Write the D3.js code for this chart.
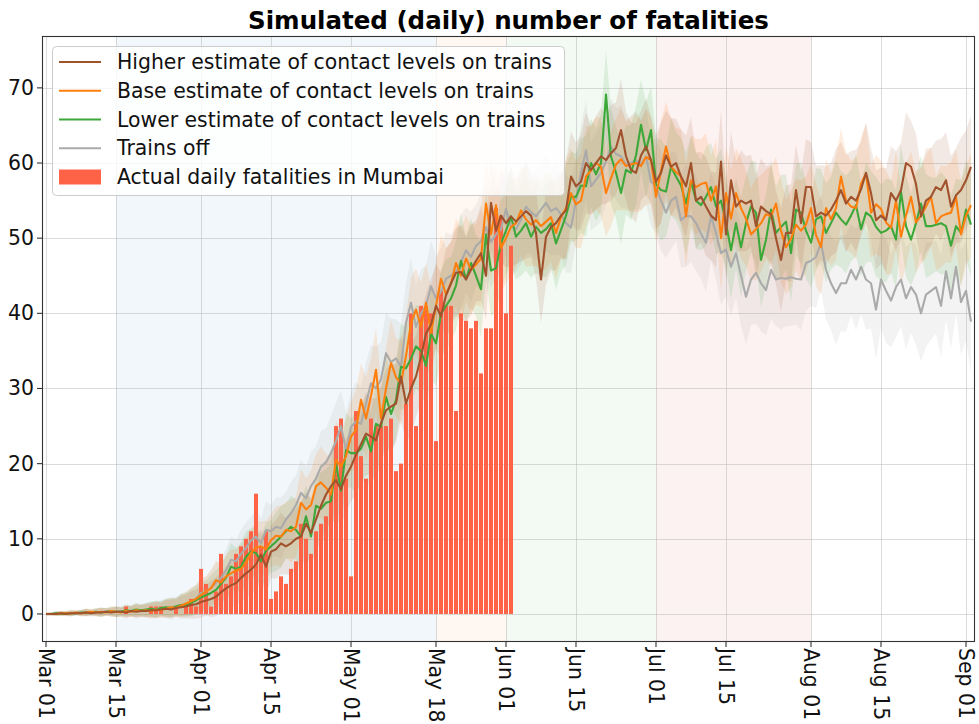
<!DOCTYPE html>
<html>
<head>
<meta charset="utf-8">
<script src="https://cdn.jsdelivr.net/npm/d3@7"></script>
<style>
  html, body { margin: 0; padding: 0; background: #fff; }
  svg { display: block; font-family: "DejaVu Sans", sans-serif; }
</style>
</head>
<body>
<svg id="chart" width="979" height="724"></svg>
<script>
// Daily series start on 2020-03-01 (one value per day through 2020-09-02)
const seriesStart = "2020-03-01";

const higherEstimate = [
  0.0,0.0,0.0,0.1,0.0,0.1,0.1,0.1,0.2,0.1,
  0.2,0.2,0.3,0.2,0.3,0.3,0.2,0.4,0.3,0.4,
  0.4,0.5,0.5,0.6,0.7,0.6,0.8,0.9,1.0,1.2,
  1.3,1.6,1.8,2.0,2.3,2.9,3.4,3.8,4.1,4.8,
  5.4,5.9,6.6,7.9,6.3,8.3,8.6,9.4,9.0,9.4,
  10.0,10.3,12.0,10.8,12.6,14.4,15.9,17.0,17.8,16.6,
  18.4,19.6,21.2,22.6,24.0,23.6,23.1,25.4,27.1,27.6,
  28.0,31.6,28.0,30.0,31.6,34.2,37.3,38.5,41.0,39.6,
  42.4,44.0,45.4,45.5,44.5,45.8,47.0,48.0,45.0,54.7,
  51.0,53.0,52.0,52.9,52.2,52.9,53.6,53.0,50.7,44.5,
  50.2,51.5,52.0,53.0,53.7,58.2,56.9,57.5,60.0,59.1,
  60.0,60.9,60.4,61.3,62.0,64.4,60.9,59.1,58.7,61.0,
  62.2,60.4,57.5,58.7,61.0,59.5,60.0,58.2,56.9,60.0,
  55.0,55.5,54.2,53.0,52.4,60.2,50.5,57.7,54.2,55.0,
  54.6,55.0,51.6,54.2,53.6,53.2,50.0,47.1,50.7,50.7,
  56.4,52.0,56.8,56.8,52.9,53.4,53.0,53.8,55.0,56.4,
  54.6,55.5,55.0,56.5,58.7,56.0,52.4,53.0,52.4,56.0,
  55.0,56.4,60.0,59.5,57.2,52.9,55.0,55.5,56.8,56.4,
  57.7,54.2,55.7,56.4,57.7,59.5
];

const baseEstimate = [
  0.0,0.0,0.0,0.1,0.1,0.1,0.2,0.1,0.2,0.3,
  0.2,0.3,0.2,0.4,0.3,0.2,0.4,0.3,0.5,0.4,
  0.5,0.4,0.6,0.5,0.7,0.9,0.8,1.1,1.4,1.7,
  2.0,2.5,3.0,3.4,4.5,4.2,5.0,5.4,5.8,6.0,
  6.8,8.1,8.8,9.0,8.6,9.8,10.4,10.3,11.2,11.0,
  11.6,14.8,13.9,14.5,17.0,17.5,16.8,15.9,20.5,19.6,
  21.0,23.6,24.5,28.5,26.0,29.0,32.5,26.0,30.0,33.4,
  31.5,30.7,34.3,38.7,40.5,38.2,41.4,37.4,41.0,44.6,
  42.5,44.0,46.7,45.0,47.3,45.8,46.5,47.3,54.6,50.5,
  54.4,48.7,50.0,51.5,52.0,53.7,52.5,51.8,52.4,51.6,
  52.2,52.8,50.7,52.8,54.0,56.0,54.5,55.0,58.2,59.0,
  60.0,59.5,56.0,58.0,59.8,60.5,59.6,59.8,60.0,59.6,
  60.8,60.4,55.5,59.0,62.2,59.5,58.8,58.2,52.9,57.7,
  56.8,57.2,57.4,55.0,56.9,50.0,56.0,52.6,56.0,54.0,
  52.6,50.5,51.2,52.0,53.2,52.9,54.6,51.0,48.8,49.9,
  51.8,51.0,51.8,54.0,50.4,48.8,54.0,52.5,54.0,58.2,
  55.0,54.2,54.0,57.2,58.6,53.4,54.5,53.9,52.1,51.4,
  55.0,50.2,53.0,55.5,52.1,53.0,54.2,55.5,52.0,52.9,
  53.2,53.4,55.5,50.5,53.0,54.4
];

const lowerEstimate = [
  0.0,0.0,0.1,0.0,0.1,0.1,0.1,0.2,0.2,0.2,
  0.3,0.2,0.3,0.4,0.3,0.3,0.5,0.4,0.6,0.5,
  0.6,0.7,0.6,0.8,0.9,0.8,1.0,1.2,1.2,1.5,
  1.8,2.2,2.5,2.8,3.2,4.0,4.8,6.3,6.0,6.3,
  7.6,8.3,8.1,7.0,8.4,9.0,9.6,10.3,11.0,11.6,
  11.2,10.3,13.0,10.3,14.4,14.0,14.8,15.0,20.0,16.4,
  21.8,21.4,21.4,22.0,23.6,21.6,25.3,24.9,28.9,26.6,
  28.5,32.9,32.7,34.0,35.6,35.0,33.0,37.3,36.0,40.0,
  41.0,42.0,43.7,47.0,44.5,46.7,45.0,43.2,50.5,45.7,
  46.0,49.3,51.0,52.9,50.2,51.0,52.0,50.2,51.5,50.7,
  51.2,52.0,49.3,51.1,53.0,55.5,55.5,57.0,56.9,60.0,
  58.5,60.0,69.1,60.9,58.7,56.0,59.1,58.7,61.0,65.1,
  61.7,64.4,57.2,56.4,56.2,59.5,58.2,57.0,54.6,57.5,
  55.0,54.4,55.5,56.8,54.2,55.0,52.0,48.4,52.0,48.8,
  52.0,54.2,53.4,47.1,49.8,53.8,50.7,51.5,52.2,48.0,
  53.8,53.4,51.0,49.4,52.5,52.9,50.7,52.0,53.4,52.5,
  51.8,53.0,54.4,51.2,53.4,52.9,51.5,50.7,51.0,51.6,
  49.8,56.2,51.6,49.8,52.0,54.6,51.6,51.6,51.8,52.0,
  51.6,49.0,51.6,50.7,53.8,51.8
];

const trainsOff = [
  0.0,0.0,0.1,0.1,0.1,0.1,0.2,0.2,0.2,0.2,
  0.2,0.3,0.3,0.3,0.3,0.4,0.4,0.4,0.5,0.5,
  0.5,0.6,0.7,0.7,0.8,0.9,1.0,1.2,1.3,1.6,
  2.0,2.8,3.0,3.5,4.1,4.8,5.8,7.2,7.0,8.0,
  8.8,9.8,10.3,9.4,11.2,11.0,11.6,11.4,12.6,13.4,
  14.5,16.1,15.4,17.0,18.0,19.6,20.2,21.4,23.0,25.0,
  21.8,24.9,25.6,25.3,28.0,30.7,30.0,31.2,34.7,33.5,
  34.0,32.9,38.7,41.4,38.2,40.0,41.0,43.6,42.0,42.9,
  44.6,45.0,45.5,46.8,48.4,47.5,49.0,49.6,51.5,49.5,
  50.5,51.2,53.9,51.5,51.2,52.5,54.2,53.5,52.9,53.8,
  54.7,53.6,54.0,53.2,52.0,51.4,55.0,58.7,61.7,56.9,
  57.8,58.7,60.2,62.2,61.2,60.9,59.8,60.0,60.4,59.8,
  60.9,57.5,56.9,55.0,53.4,55.0,55.5,52.4,53.0,52.9,
  52.0,50.6,49.4,52.9,50.7,48.0,48.5,46.2,48.0,45.0,
  42.2,44.5,45.4,44.0,43.1,45.8,44.5,44.7,44.6,44.8,
  44.6,44.5,46.7,47.0,47.5,49.4,45.8,44.0,42.7,44.0,
  44.0,45.8,44.5,46.2,44.5,44.0,40.5,44.5,43.0,41.7,
  43.5,44.5,42.0,43.5,42.5,40.0,42.5,43.0,43.5,41.0,
  45.6,42.0,46.2,41.5,43.0,38.9
];

// Half-width of the simulation spread drawn around each scenario line
const bandSpread = [
  0.2,0.2,0.3,0.3,0.3,0.4,0.3,0.4,0.5,0.4,
  0.5,0.6,0.5,0.6,0.7,0.6,0.8,0.7,0.9,0.8,
  0.9,1.0,1.1,1.0,1.2,1.3,1.2,1.5,1.6,1.8,
  1.9,2.1,2.0,2.4,2.6,2.5,2.9,3.1,2.8,3.2,
  3.4,3.1,3.6,3.3,3.8,3.5,3.9,4.1,3.7,4.2,
  4.0,4.5,4.2,4.6,4.3,4.8,4.5,4.9,5.2,4.7,
  5.0,4.6,5.3,4.9,5.5,5.1,5.6,5.0,5.4,5.8,
  5.2,5.7,5.4,6.0,5.5,5.9,5.3,6.1,5.6,5.8,
  6.2,5.5,5.9,6.3,5.7,6.0,5.4,6.4,5.8,6.1,
  5.6,6.2,5.9,6.5,5.7,6.0,6.3,5.5,6.1,5.8,
  6.4,5.9,6.2,5.6,6.6,6.0,5.8,6.3,6.7,5.9,
  6.2,6.5,5.8,6.4,6.1,6.8,5.9,6.3,6.6,6.0,
  6.4,5.8,6.2,6.7,6.0,6.5,5.9,6.3,6.8,6.1,
  6.4,6.0,6.6,5.9,6.3,6.9,6.2,6.5,6.0,6.7,
  6.3,6.1,6.8,6.4,6.0,6.6,6.2,6.9,6.3,6.5,
  6.1,6.7,6.4,6.0,6.8,6.3,6.6,6.2,6.9,6.4,
  6.5,6.1,6.8,6.3,6.7,6.0,6.6,6.4,6.9,6.2,
  6.6,6.3,6.8,6.1,6.7,6.4,6.9,6.5,6.2,6.8,
  6.4,6.7,6.3,7.0,6.6,6.9
];

// Reported daily deaths in Mumbai, one value per day from 2020-03-17
const deathsStart = "2020-03-17";
const actualDeaths = [
  1,0,0,0,0,1,1,1,0,0,1,0,1,2,1,
  6,4,1,3,8,4,5,8,9,10,11,16,9,11,
  2,3,5,4,6,7,12,10,8,11,12,13,16,25,26,18,
  5,27,21,18,26,25,25,25,26,19,20,28,40,25,41,41,40,
  23,43,41,41,27,40,39,38,39,32,38,38,54,53,40,49
];

const tickDates = ["2020-03-01","2020-03-15","2020-04-01","2020-04-15","2020-05-01","2020-05-18",
                   "2020-06-01","2020-06-15","2020-07-01","2020-07-15","2020-08-01","2020-08-15","2020-09-01"];
const tickLabels = ["Mar 01","Mar 15","Apr 01","Apr 15","May 01","May 18",
                    "Jun 01","Jun 15","Jul 01","Jul 15","Aug 01","Aug 15","Sep 01"];
const yTicks = [0, 10, 20, 30, 40, 50, 60, 70];

// Policy phases shaded behind the curves
const phaseStarts = ["2020-03-15","2020-05-18","2020-06-01","2020-07-01"];
const phaseEnds   = ["2020-05-18","2020-06-01","2020-07-01","2020-08-01"];
const phaseColors = ["#1f77b4","#ff7f0e","#2ca02c","#d62728"];

const scenarioNames = ["Higher estimate of contact levels on trains",
                       "Base estimate of contact levels on trains",
                       "Lower estimate of contact levels on trains",
                       "Trains off"];
const scenarioColors = ["#a0522d", "#ff7f0e", "#3da83a", "#aaaaaa"];
const barColor = "#ff6347";
const barLabel = "Actual daily fatalities in Mumbai";

// ---- drawing ----
const DAY = 864e5;
const parse = s => new Date(s + "T00:00:00Z");
const t0 = parse(seriesStart);
const dayDate = i => new Date(t0.getTime() + i * DAY);

const W = 979, H = 724;
const plot = { left: 42, right: 975, top: 36, bottom: 642 };
const tickFont = "20.4px";

const svg = d3.select("#chart");
svg.append("rect").attr("width", W).attr("height", H).attr("fill", "#fff");

const nDays = higherEstimate.length;
const x = d3.scaleUtc()
  .domain([new Date(t0.getTime() - 0.8 * DAY), new Date(dayDate(nDays - 1).getTime() + 0.8 * DAY)])
  .range([plot.left, plot.right]);
const y = d3.scaleLinear().domain([-3.73, 76.9]).range([plot.bottom, plot.top]);

const g = svg.append("g");

// phase shading
phaseStarts.forEach((s, i) => {
  g.append("rect")
    .attr("x", x(parse(s)))
    .attr("y", plot.top)
    .attr("width", x(parse(phaseEnds[i])) - x(parse(s)))
    .attr("height", plot.bottom - plot.top)
    .attr("fill", phaseColors[i])
    .attr("fill-opacity", 0.06);
});

// grid
const grid = g.append("g").attr("stroke", "#b0b0b0").attr("stroke-opacity", 0.45).attr("stroke-width", 1);
tickDates.forEach(t => {
  const px = Math.round(x(parse(t))) + 0.5;
  grid.append("line").attr("x1", px).attr("x2", px).attr("y1", plot.top).attr("y2", plot.bottom);
});
yTicks.forEach(v => {
  const py = Math.round(y(v)) + 0.5;
  grid.append("line").attr("x1", plot.left).attr("x2", plot.right).attr("y1", py).attr("y2", py);
});

const scenarios = [higherEstimate, baseEstimate, lowerEstimate, trainsOff];

// spread bands (drawn so the first scenario ends up on top)
const area = d3.area()
  .x((d, i) => x(dayDate(i)))
  .y0((d, i) => y(d - bandSpread[i]))
  .y1((d, i) => y(d + bandSpread[i]));
[3, 2, 1, 0].forEach(k => {
  g.append("path")
    .datum(scenarios[k])
    .attr("d", area)
    .attr("fill", scenarioColors[k])
    .attr("fill-opacity", k === 3 ? 0.14 : 0.13);
});

// actual fatalities bars
const d0 = parse(deathsStart);
const barW = x(new Date(t0.getTime() + 0.8 * DAY)) - x(t0);
g.append("g").selectAll("rect")
  .data(actualDeaths)
  .join("rect")
  .attr("x", (d, i) => x(new Date(d0.getTime() + i * DAY)) - barW / 2)
  .attr("y", d => y(d))
  .attr("width", barW)
  .attr("height", d => y(0) - y(d))
  .attr("fill", barColor);

// scenario lines
const line = d3.line().x((d, i) => x(dayDate(i))).y(d => y(d));
[3, 2, 1, 0].forEach(k => {
  g.append("path")
    .datum(scenarios[k])
    .attr("d", line)
    .attr("fill", "none")
    .attr("stroke", scenarioColors[k])
    .attr("stroke-width", 2.1)
    .attr("stroke-linejoin", "round");
});

// frame
svg.append("rect")
  .attr("x", plot.left + 0.5).attr("y", plot.top + 0.5)
  .attr("width", plot.right - plot.left - 1).attr("height", plot.bottom - plot.top - 1)
  .attr("fill", "none").attr("stroke", "#333").attr("stroke-width", 1.1);

// axes
const xAxis = svg.append("g");
tickDates.forEach((t, i) => {
  const px = x(parse(t));
  xAxis.append("line").attr("x1", px).attr("x2", px)
    .attr("y1", plot.bottom).attr("y2", plot.bottom + 5)
    .attr("stroke", "#333").attr("stroke-width", 1.1);
  xAxis.append("text")
    .attr("transform", `translate(${px},${plot.bottom + 6}) rotate(90)`)
    .attr("text-anchor", "start")
    .attr("dominant-baseline", "central")
    .attr("font-size", tickFont)
    .attr("fill", "#111")
    .text(tickLabels[i]);
});

const yAxis = svg.append("g");
yTicks.forEach(v => {
  const py = y(v);
  yAxis.append("line").attr("x1", plot.left - 5).attr("x2", plot.left)
    .attr("y1", py).attr("y2", py).attr("stroke", "#333").attr("stroke-width", 1.1);
  yAxis.append("text")
    .attr("x", plot.left - 8).attr("y", py)
    .attr("text-anchor", "end")
    .attr("dominant-baseline", "central")
    .attr("font-size", tickFont)
    .attr("fill", "#111")
    .text(v);
});

// title
svg.append("text")
  .attr("x", (plot.left + plot.right) / 2).attr("y", 29)
  .attr("text-anchor", "middle")
  .attr("font-size", "24.5px")
  .attr("font-weight", "bold")
  .attr("fill", "#000")
  .text("Simulated (daily) number of fatalities");

// legend
const legend = svg.append("g");
legend.append("rect")
  .attr("x", 52.5).attr("y", 46.5).attr("width", 512).attr("height", 149)
  .attr("rx", 4)
  .attr("fill", "#fff").attr("fill-opacity", 0.8)
  .attr("stroke", "#cccccc").attr("stroke-width", 1);
const rowY = i => 62 + i * 28.75;
scenarioNames.forEach((name, i) => {
  legend.append("line")
    .attr("x1", 59).attr("x2", 101).attr("y1", rowY(i)).attr("y2", rowY(i))
    .attr("stroke", scenarioColors[i]).attr("stroke-width", 2.1);
  legend.append("text")
    .attr("x", 117).attr("y", rowY(i))
    .attr("dominant-baseline", "central")
    .attr("font-size", "20.4px").attr("fill", "#111")
    .text(name);
});
legend.append("rect")
  .attr("x", 59).attr("y", rowY(4) - 7.5).attr("width", 42).attr("height", 15)
  .attr("fill", barColor);
legend.append("text")
  .attr("x", 117).attr("y", rowY(4))
  .attr("dominant-baseline", "central")
  .attr("font-size", "20.4px").attr("fill", "#111")
  .text(barLabel);
</script>
</body>
</html>
